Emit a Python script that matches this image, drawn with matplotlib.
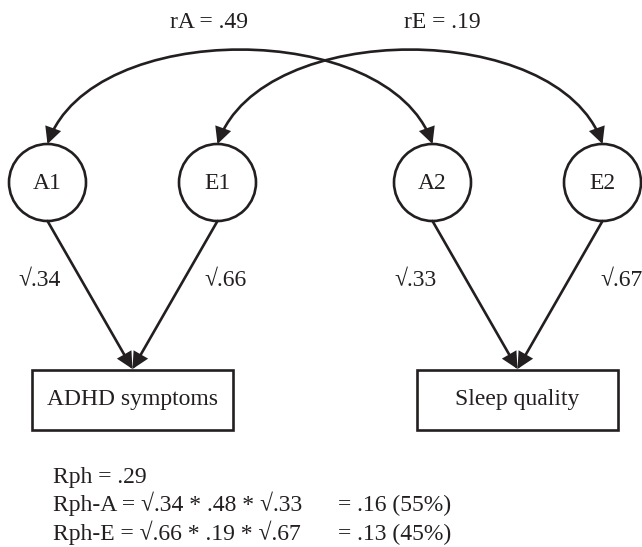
import matplotlib

matplotlib.use("Agg")
import matplotlib.pyplot as plt
from matplotlib.patches import Circle, Rectangle, FancyArrowPatch
from matplotlib.path import Path

plt.rcParams["font.family"] = ["Liberation Serif", "DejaVu Serif"]

INK = "#231f20"

# latent factors and observed traits
LATENT = ["A1", "E1", "A2", "E2"]
LATENT_X = [47.5, 217.5, 432.5, 602.5]
OBSERVED = ["ADHD symptoms", "Sleep quality"]
OBSERVED_X = [132.5, 517.5]
TARGET_OF = [0, 0, 1, 1]
LOADINGS = ["\u221a.34", "\u221a.66", "\u221a.33", "\u221a.67"]
LOAD_LABEL_X = [40, 226, 416, 622]

# cross-trait correlations: (from latent, to latent, label)
CORR = [(0, 2, "rA = .49"), (1, 3, "rE = .19")]
CORR_LABEL_X = [209, 442]

SUMMARY = [
    ("Rph = .29", ""),
    ("Rph-A = \u221a.34 * .48 * \u221a.33", "= .16 (55%)"),
    ("Rph-E = \u221a.66 * .19 * \u221a.67", "= .13 (45%)"),
]

R = 38.5
CY = 182.5
BOX_W, BOX_H = 201, 60
BOX_TOP = 370
FS = 17


def arrow(path, style="-|>"):
    return FancyArrowPatch(
        path=path,
        arrowstyle=f"{style},head_length=9,head_width=4.5",
        color=INK,
        lw=1.9,
        shrinkA=0,
        shrinkB=0,
        mutation_scale=1.0,
        joinstyle="miter",
    )


def main() -> None:
    fig = plt.figure(figsize=(6.42, 5.47), dpi=100, facecolor="white")
    ax = fig.add_axes([0, 0, 1, 1])
    ax.set_xlim(0, 642)
    ax.set_ylim(547, 0)
    ax.axis("off")

    # latent circles
    for name, x in zip(LATENT, LATENT_X):
        ax.add_patch(Circle((x, CY), R, fill=False, ec=INK, lw=1.9))
        ax.text(x, CY + 1, name, ha="center", va="center", fontsize=FS, color=INK)

    # observed boxes
    for name, x in zip(OBSERVED, OBSERVED_X):
        ax.add_patch(
            Rectangle((x - BOX_W / 2, BOX_TOP), BOX_W, BOX_H, fill=False, ec=INK, lw=1.9)
        )
        ax.text(x, BOX_TOP + BOX_H / 2, name, ha="center", va="center",
                fontsize=FS, color=INK)

    # loadings
    for i, x in enumerate(LATENT_X):
        tx = OBSERVED_X[TARGET_OF[i]]
        p = Path([(x, CY + R), (tx, BOX_TOP - 1)], [Path.MOVETO, Path.LINETO])
        ax.add_patch(arrow(p))
        ax.text(LOAD_LABEL_X[i], 281, LOADINGS[i], ha="center", va="center",
                fontsize=FS, color=INK)

    # correlation arcs
    top = CY - R
    for (a, b, label), lx in zip(CORR, CORR_LABEL_X):
        x0, x1 = LATENT_X[a], LATENT_X[b]
        verts = [(x0, top), (x0 + 45, top - 125), (x1 - 45, top - 125), (x1, top)]
        p = Path(verts, [Path.MOVETO, Path.CURVE4, Path.CURVE4, Path.CURVE4])
        ax.add_patch(arrow(p, style="<|-|>"))
        ax.text(lx, 22, label, ha="center", va="center", fontsize=FS, color=INK)

    # decomposition text
    for k, (left, right) in enumerate(SUMMARY):
        y = 483 + k * 28.5
        ax.text(53, y, left, ha="left", va="baseline", fontsize=FS, color=INK)
        if right:
            ax.text(338, y, right, ha="left", va="baseline", fontsize=FS, color=INK)

    fig.savefig("out.png", dpi=100, facecolor="white")
    plt.close(fig)


if __name__ == "__main__":
    main()
